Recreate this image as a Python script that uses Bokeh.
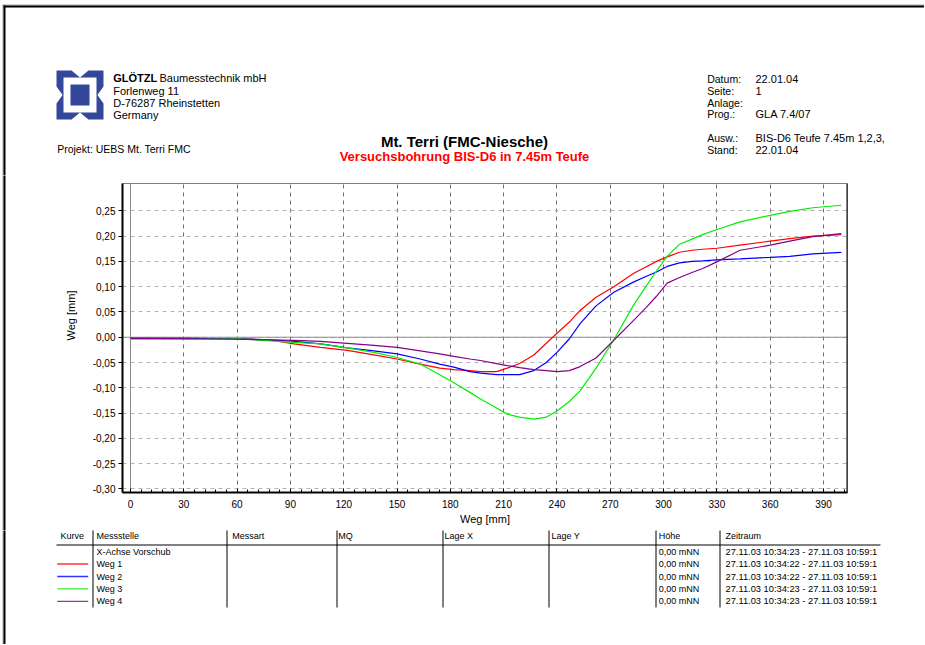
import math
from bokeh.plotting import figure
from bokeh.layouts import column, row
from bokeh.models import (Range1d, FixedTicker, CustomJSTickFormatter, Span, ColumnDataSource)
from bokeh.core.properties import value
from bokeh.embed import file_html
from bokeh.resources import INLINE

# ---------------- data ----------------
x_mm = [0, 30, 60, 78, 92, 107, 122, 137, 150, 163, 174, 182, 191, 197, 206, 212,
        219, 227, 234, 240, 247, 253, 262, 272, 283, 290, 296, 302, 309, 316, 322,
        330, 343, 360, 371, 384, 400]

weg1 = [-0.002, -0.002, -0.003, -0.005, -0.013, -0.020, -0.026, -0.035, -0.043, -0.053,
        -0.061, -0.064, -0.066, -0.068, -0.068, -0.061, -0.052, -0.035, -0.012, 0.008,
        0.030, 0.053, 0.079, 0.100, 0.126, 0.139, 0.150, 0.159, 0.168, 0.172, 0.174,
        0.176, 0.182, 0.190, 0.195, 0.200, 0.203]

weg2 = [-0.002, -0.002, -0.003, -0.005, -0.008, -0.013, -0.021, -0.027, -0.033, -0.043,
        -0.053, -0.059, -0.068, -0.071, -0.074, -0.074, -0.074, -0.066, -0.050, -0.030,
        -0.003, 0.027, 0.062, 0.089, 0.109, 0.120, 0.129, 0.140, 0.147, 0.150, 0.151,
        0.153, 0.155, 0.158, 0.160, 0.165, 0.168]

weg3 = [-0.004, -0.004, -0.003, -0.007, -0.010, -0.013, -0.021, -0.030, -0.040, -0.053,
        -0.074, -0.090, -0.109, -0.122, -0.140, -0.152, -0.158, -0.162, -0.158, -0.146,
        -0.127, -0.106, -0.061, -0.005, 0.063, 0.100, 0.131, 0.160, 0.184, 0.194, 0.203,
        0.213, 0.228, 0.241, 0.249, 0.256, 0.261]

weg4 = [-0.002, -0.003, -0.004, -0.005, -0.006, -0.008, -0.012, -0.016, -0.020, -0.027,
        -0.033, -0.038, -0.043, -0.046, -0.052, -0.056, -0.060, -0.064, -0.066, -0.068,
        -0.066, -0.058, -0.041, -0.006, 0.033, 0.058, 0.081, 0.107, 0.118, 0.128, 0.136,
        0.149, 0.172, 0.182, 0.190, 0.199, 0.205]

series_names = ["Weg 1", "Weg 2", "Weg 3", "Weg 4"]
series_colors = ["#ff0000", "#0000ff", "#00ee00", "#880088"]

x_ticks = [0, 30, 60, 90, 120, 150, 180, 210, 240, 270, 300, 330, 360, 390]
x_minor = list(range(0, 403, 6))
y_ticks = [-0.30, -0.25, -0.20, -0.15, -0.10, -0.05, 0.00, 0.05, 0.10, 0.15, 0.20, 0.25]

company_bold = "GLÖTZL"
company = ["Baumesstechnik mbH", "Forlenweg 11", "D-76287 Rheinstetten", "Germany"]
projekt = "Projekt: UEBS  Mt. Terri FMC"
info_keys = ["Datum:", "Seite:", "Anlage:", "Prog.:", "Ausw.:", "Stand:"]
info_vals = ["22.01.04", "1", "", "GLA 7.4/07", "BIS-D6 Teufe 7.45m 1,2,3,", "22.01.04"]
title = "Mt. Terri (FMC-Niesche)"
subtitle = "Versuchsbohrung BIS-D6 in 7.45m Teufe"
axis_title = "Weg [mm]"

table_cols = ["Kurve", "Messstelle", "Messart", "MQ", "Lage X", "Lage Y", "Höhe", "Zeitraum"]
messstellen = ["X-Achse Vorschub", "Weg 1", "Weg 2", "Weg 3", "Weg 4"]
hoehe = ["0,00 mNN", "0,00 mNN", "0,00 mNN", "0,00 mNN", "0,00 mNN"]
zeitraum = ["27.11.03 10:34:23 - 27.11.03 10:59:1",
            "27.11.03 10:34:22 - 27.11.03 10:59:1",
            "27.11.03 10:34:22 - 27.11.03 10:59:1",
            "27.11.03 10:34:23 - 27.11.03 10:59:1",
            "27.11.03 10:34:23 - 27.11.03 10:59:1"]

FONT = "Liberation Sans"
PAGE_L, PAGE_R = 0, 924          # page x extent of the figures
TOP_B = 175                      # bottom of header figure (page y)
CHART_B = 530                    # bottom of chart figure (page y)
PAGE_B = 644                     # bottom of table figure (page y)
STRIP_R = 86                     # right edge of left strip (page x)


def page_fig(x0, x1, y0, y1):
    f = figure(width=x1 - x0, height=y1 - y0, x_range=Range1d(x0, x1), y_range=Range1d(y1, y0),
               x_axis_type=None, y_axis_type=None, min_border=0, toolbar_location=None,
               output_backend="svg", frame_align=False)
    f.outline_line_color = None
    f.background_fill_color = "white"
    f.border_fill_color = "white"
    return f


def txt(f, xs, ys, texts, size="10.5px", bold=False, color="black", align="left", angle=0.0):
    f.text(x=xs, y=ys, text=texts, text_font=value(FONT), text_font_size=value(size),
           text_font_style="bold" if bold else "normal", text_color=color,
           text_align=align, text_baseline="middle", angle=angle)


def left_border(f, y0, y1):
    f.quad(left=[2], right=[3], top=[max(y0 - 2, 4)], bottom=[y1 + 2], fill_color="#a0a0a0", line_alpha=0)
    f.quad(left=[3], right=[5], top=[max(y0 - 2, 5)], bottom=[y1 + 2], fill_color="black", line_alpha=0)


# ---------------- header ----------------
top = page_fig(PAGE_L, PAGE_R, 0, TOP_B)
top.quad(left=[2], right=[PAGE_R + 2], top=[4], bottom=[5], fill_color="#a0a0a0", line_alpha=0)
top.quad(left=[3], right=[PAGE_R + 2], top=[5], bottom=[7], fill_color="black", line_alpha=0)
left_border(top, 4, TOP_B)

blue = "#33479b"
top.patch([56, 71, 79.5, 88, 103, 103, 97, 103, 103, 88, 79.5, 71, 56, 56, 62, 56],
          [70, 70, 77, 70, 70, 86, 94.5, 103, 119, 119, 112, 119, 119, 103, 94.5, 86],
          fill_color=blue, line_alpha=0)
top.quad(left=[63], right=[96], top=[77], bottom=[112], fill_color="white", line_alpha=0)
top.quad(left=[70], right=[89], top=[84], bottom=[105], fill_color=blue, line_alpha=0)

txt(top, [112.7], [77], [company_bold], size="11px", bold=True)
txt(top, [159], [77], company[:1], size="11px")
txt(top, [112.7, 112.7, 112.7], [90, 102.2, 114.4], company[1:], size="11px")
txt(top, [56.7], [148.5], [projekt])

info_y = [78.3, 90.3, 102.3, 113.7, 137.7, 149.3]
txt(top, [706.7] * 6, info_y, info_keys)
txt(top, [755] * 6, info_y, info_vals, size="11px")

txt(top, [464], [140.7], [title], size="15px", bold=True, align="center")
txt(top, [464], [156.3], [subtitle], size="13px", bold=True, color="#ff0000", align="center")

# ---------------- left strip ----------------
strip = page_fig(PAGE_L, STRIP_R, TOP_B, CHART_B)
left_border(strip, TOP_B, CHART_B)
txt(strip, [70], [315], [axis_title], size="11px", align="center", angle=math.pi / 2)

# ---------------- chart ----------------
p = figure(width=PAGE_R - STRIP_R, height=CHART_B - TOP_B, output_backend="svg",
           toolbar_location=None, x_range=Range1d(-4.5, 403.5), y_range=Range1d(-0.307, 0.304),
           min_border_left=122 - STRIP_R, min_border_right=PAGE_R - 847,
           min_border_top=183 - TOP_B, min_border_bottom=CHART_B - 492, frame_align=False)
p.background_fill_color = "white"
p.border_fill_color = "white"
p.outline_line_color = "#808080"

p.xaxis.ticker = FixedTicker(ticks=x_ticks, minor_ticks=x_minor)
p.yaxis.ticker = FixedTicker(ticks=y_ticks)
p.yaxis.formatter = CustomJSTickFormatter(code="return tick.toFixed(2).replace('.', ',');")
for ax in (p.xaxis[0], p.yaxis[0]):
    ax.axis_line_color = "black"
    ax.axis_line_width = 2
    ax.major_label_text_font = FONT
    ax.major_label_text_font_size = "10px"
    ax.major_label_text_color = "black"
    ax.major_tick_line_color = "black"
p.xaxis.major_tick_in = 4
p.xaxis.major_tick_out = 0
p.xaxis.minor_tick_in = 3
p.xaxis.minor_tick_out = 0
p.xaxis.minor_tick_line_color = "black"
p.xaxis.major_label_standoff = 7
p.xaxis.axis_label = axis_title
p.xaxis.axis_label_text_font = FONT
p.xaxis.axis_label_text_font_size = "11px"
p.xaxis.axis_label_text_font_style = "normal"
p.xaxis.axis_label_text_color = "black"
p.xaxis.axis_label_standoff = 2
p.yaxis.major_tick_in = 0
p.yaxis.major_tick_out = 4
p.yaxis.minor_tick_line_color = None
p.yaxis.major_label_standoff = 3

p.xgrid.grid_line_color = "#707070"
p.xgrid.grid_line_dash = "4 4"
p.ygrid.grid_line_color = "#b4b4b4"
p.ygrid.grid_line_dash = "4 4"
p.add_layout(Span(location=0, dimension="width", line_color="#8c8c8c", line_width=1, level="underlay"))
p.add_layout(Span(location=0, dimension="height", line_color="#8c8c8c", line_width=1, level="underlay"))
p.add_layout(Span(location=403.5, dimension="height", line_color="black", line_width=2))

for name, ys, col in zip(series_names, [weg1, weg2, weg3, weg4], series_colors):
    src = ColumnDataSource(dict(x=x_mm, y=ys))
    p.line("x", "y", source=src, line_color=col, line_width=1.2)

# ---------------- table ----------------
tab = page_fig(PAGE_L, PAGE_R, CHART_B, PAGE_B)
left_border(tab, CHART_B, PAGE_B)

col_x = [60, 96, 231.7, 337.7, 444, 551, 658.3, 725]
sep_x = [92.5, 226.5, 336.5, 442.5, 548.5, 655.5, 719.5]
row_y = [551, 563.5, 576, 588.4, 600.8]

txt(tab, col_x, [535] * len(col_x), table_cols, size="9px")
tab.segment(x0=[56], y0=[544.5], x1=[880], y1=[544.5], line_color="black", line_width=1)
tab.segment(x0=sep_x, y0=[529] * len(sep_x), x1=sep_x, y1=[607] * len(sep_x),
            line_color="black", line_width=1)
txt(tab, [col_x[1]] * 5, row_y, messstellen, size="9px")
txt(tab, [col_x[6]] * 5, row_y, hoehe, size="9px")
txt(tab, [col_x[7]] * 5, row_y, zeitraum, size="9.3px")
tab.segment(x0=[56.7] * 4, y0=row_y[1:], x1=[87.7] * 4, y1=row_y[1:],
            line_color=series_colors, line_width=1.3, line_alpha=0.8)

page = column(top, row(strip, p, spacing=0), tab, spacing=0)

open("out.html", "w").write(file_html(page, INLINE))
